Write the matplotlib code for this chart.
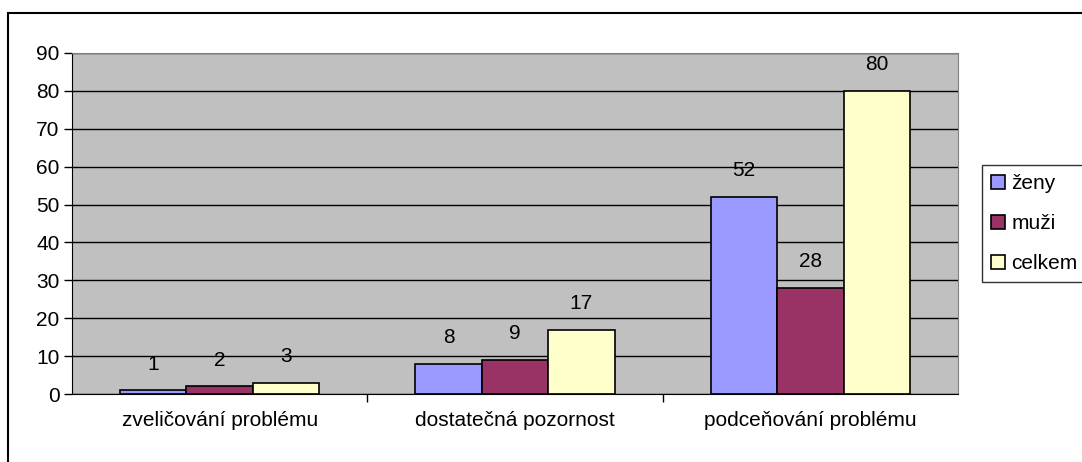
import numpy as np
import matplotlib.pyplot as plt
from matplotlib.patches import Rectangle

plt.rcParams['font.family'] = ['Liberation Sans', 'DejaVu Sans']

categories = ['zveličování problému', 'dostatečná pozornost', 'podceňování problému']
series = ['ženy', 'muži', 'celkem']
zeny = [1, 8, 52]
muzi = [2, 9, 28]
celkem = [3, 17, 80]
colors = ['#9999FF', '#993366', '#FFFFCC']

fs = 15

fig = plt.figure(figsize=(10.82, 4.62), dpi=100)
ax = fig.add_axes([72/1082, 1-394/462, (958-72)/1082, (394-53)/462])
ax.set_facecolor('#C0C0C0')

x = np.arange(len(categories))
w = 0.225
for i, (vals, c, name) in enumerate(zip([zeny, muzi, celkem], colors, series)):
    pos = x + (i - 1) * w
    bars = ax.bar(pos, vals, w, color=c, edgecolor='black', linewidth=1.2, label=name, zorder=3)
    for b, v in zip(bars, vals):
        ax.annotate(str(v), (b.get_x() + b.get_width()/2, v), xytext=(0, 12),
                    textcoords='offset points', ha='center', va='bottom', fontsize=fs)

ax.set_xlim(-0.5, 2.5)
ax.set_ylim(0, 90)
ax.set_yticks(range(0, 91, 10))
ax.tick_params(axis='y', labelsize=fs, length=6, width=1, direction='out', pad=3)
ax.yaxis.grid(True, color='black', linewidth=1, zorder=1)
ax.set_axisbelow(True)

ax.set_xticks(x)
ax.set_xticklabels(categories, fontsize=fs)
ax.tick_params(axis='x', length=0, pad=12)
ax.set_xticks([0.5, 1.5], minor=True)
ax.tick_params(axis='x', which='minor', length=6, width=1, direction='out')

ax.spines['top'].set_color('#808080')
ax.spines['right'].set_color('#808080')
ax.spines['left'].set_color('black')
ax.spines['bottom'].set_color('black')
ax.spines['bottom'].set_zorder(4)

leg = fig.legend(loc='upper left', bbox_to_anchor=(982/1082, 1-165/462), fontsize=fs,
                 frameon=True, fancybox=False, edgecolor='black', handlelength=0.65,
                 handleheight=0.65, handletextpad=0.3, borderpad=0.45, labelspacing=1.0,
                 borderaxespad=0)
leg.get_frame().set_linewidth(1)
for h in leg.legend_handles:
    h.set_edgecolor('black')
    h.set_linewidth(1.2)

fig.patches.append(Rectangle((8/1082, -0.1), 1.2, 1-13/462+0.1, transform=fig.transFigure,
                             fill=False, edgecolor='black', linewidth=1.5))

fig.savefig('out.png', dpi=100)
